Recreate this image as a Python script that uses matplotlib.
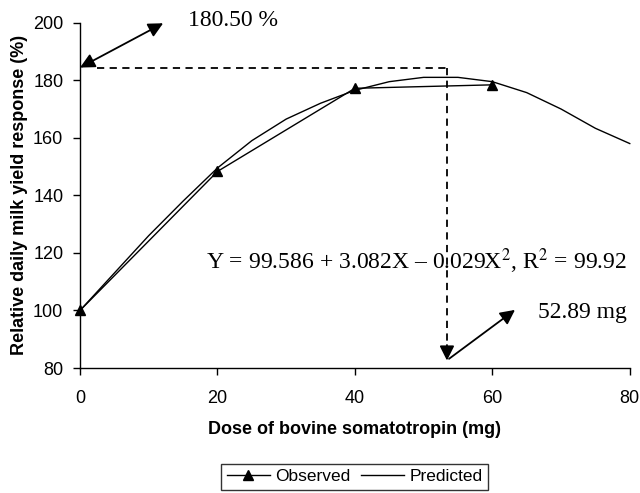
"""Relative daily milk yield response vs dose of bovine somatotropin."""
import matplotlib
matplotlib.use("Agg")
import matplotlib.pyplot as plt

# observed points
obs_dose = [0, 20, 40, 60]
obs_resp = [100, 148.3, 177.2, 178.4]

# predicted curve
pred_dose = [0, 5, 10, 15, 20, 25, 30, 35, 40, 45, 50, 55, 60, 65, 70, 75, 80]
pred_resp = [100, 113, 126, 138, 149.5, 159, 166.5, 172, 176.5, 179.5,
             181, 181, 179.5, 175.7, 170, 163.3, 158]

# optimum marked on the chart
opt_dose = 53.4
opt_resp = 184.4

x_ticks = [0, 20, 40, 60, 80]
y_ticks = [80, 100, 120, 140, 160, 180, 200]

plt.rcParams['font.family'] = ['Liberation Sans', 'DejaVu Sans']
serif = ['Liberation Serif', 'DejaVu Serif']

fig = plt.figure(figsize=(6.4, 4.93), dpi=100)
ax = fig.add_axes([0.125, 0.2535, 0.859, 0.7005])

ax.plot(obs_dose, obs_resp, color='black', lw=1, marker='^', ms=7,
        label='Observed', clip_on=False, zorder=3)
ax.plot(pred_dose, pred_resp, color='black', lw=1, label='Predicted',
        clip_on=False)

# dashed guides
ax.plot([2.5, opt_dose], [opt_resp, opt_resp], color='black', lw=1.3,
        ls=(0, (4, 3)))
ax.plot([opt_dose, opt_dose], [opt_resp, 87], color='black', lw=1.3,
        ls=(0, (4, 3)))
head = dict(arrowstyle='-|>', color='black', lw=1.3, mutation_scale=22,
            shrinkA=0, shrinkB=0)
ax.annotate('', xy=(opt_dose, 82.6), xytext=(opt_dose, 88),
            arrowprops=head, annotation_clip=False)

ax.annotate('', xy=(12.1, 199.8), xytext=(0, opt_resp),
            arrowprops=dict(head, arrowstyle='<|-|>'),
            annotation_clip=False)
ax.annotate('', xy=(63.3, 100.2), xytext=(opt_dose + 0.3, 83.2),
            arrowprops=head, annotation_clip=False)

ax.text(15.7, 200.7, '180.50 %', family=serif, fontsize=17, va='center')
ax.text(66.7, 99.2, '52.89 mg', family=serif, fontsize=17, va='center')
ax.text(48.9, 117, 'Y = 99.586 + 3.082X – 0.029X$^2$, R$^2$ = 99.92',
        family=serif, fontsize=17, ha='center', va='center',
        math_fontfamily='stix')

ax.set_xlim(0, 80)
ax.set_ylim(80, 200)
ax.set_xticks(x_ticks)
ax.set_yticks(y_ticks)
ax.tick_params(direction='out', length=5, width=1, labelsize=13)
ax.tick_params(axis='x', pad=11)
ax.tick_params(axis='y', pad=7)
ax.spines['top'].set_visible(False)
ax.spines['right'].set_visible(False)
for s in ('left', 'bottom'):
    ax.spines[s].set_linewidth(1)
ax.set_xlabel('Dose of bovine somatotropin (mg)', fontsize=13,
              fontweight='bold', labelpad=10)
ax.set_ylabel('Relative daily milk yield response (%)', fontsize=13,
              fontweight='bold', labelpad=4)

leg = fig.legend(loc='center', bbox_to_anchor=(0.554, 0.033), ncol=2,
                 fontsize=12.5, frameon=True, fancybox=False, handlelength=2.5,
                 columnspacing=0.6, handletextpad=0.3, borderpad=0.3)
leg.get_frame().set_edgecolor('black')
leg.get_frame().set_linewidth(1)

fig.savefig('out.png', dpi=100)
